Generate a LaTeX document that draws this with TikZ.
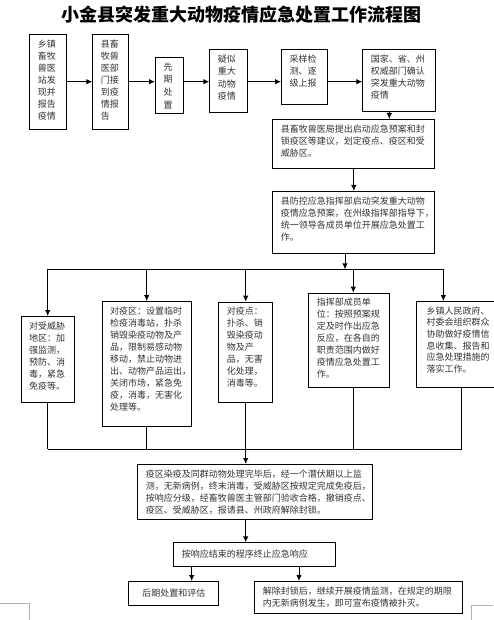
\documentclass[tikz,border=0pt]{standalone}
\usepackage{fontspec}
\newfontfamily\cjk{Noto Sans CJK SC}
\usetikzlibrary{arrows.meta}
\newcommand{\cell}[3]{\parbox[t][#2pt][t]{#1pt}{#3}}

\begin{document}
\begin{tikzpicture}[x=1pt,y=-1pt,
 box/.style={draw,line width=1pt,anchor=north west,inner xsep=8pt,inner ysep=5pt,font=\cjk\fontsize{9}{12}\selectfont,text=black!80},
 arr/.style={line width=1pt,-{Latex[length=6pt,width=5.5pt]}},
 ln/.style={line width=1pt}]
\useasboundingbox (0,0) rectangle (493,620);

\node[font=\cjk\bfseries\fontsize{18}{18}\selectfont] (title) at (241,14.5) {小金县突发重大动物疫情应急处置工作流程图};

\node[box] (b1) at (29.3,34.5) {\cell{20.4}{84.8}{乡镇\\畜牧\\兽医\\站发\\现并\\报告\\疫情}};
\node[box] (b2) at (92.3,34.5) {\cell{20}{84.8}{县畜\\牧兽\\医部\\门接\\到疫\\情报\\告}};
\node[box] (b3) at (155,57) {\cell{11.7}{45.7}{\baselineskip=12.7pt 先\\期\\处\\置}};
\node[box] (b4) at (209.3,49) {\cell{21.4}{53.3}{\baselineskip=12.5pt 疑似\\重大\\动物\\疫情}};
\node[box] (b5) at (281,49.3) {\cell{29.7}{45}{采样检\\测、逐\\级上报}};
\node[box] (b6) at (362.3,49.3) {\cell{56.7}{51.4}{国家、省、州\\权威部门确认\\突发重大动物\\疫情}};
\node[box] (b7) at (272.3,119) {\cell{146}{39.3}{县畜牧兽医局提出启动应急预案和封\\锁疫区等建议，划定疫点、疫区和受\\威胁区。}};
\node[box] (b8) at (272.3,191) {\cell{146}{52.3}{县防控应急指挥部启动突发重大动物\\疫情应急预案，在州级指挥部指导下，\\统一领导各成员单位开展应急处置工\\作。}};

\node[box] (bA) at (20.7,316) {\cell{37.6}{76.3}{对受威胁\\地区：加\\强监测，\\预防、消\\毒，紧急\\免疫等。}};
\node[box] (bB) at (101.7,301) {\cell{73.6}{114.7}{对疫区：设置临时\\检疫消毒站，扑杀\\销毁染疫动物及产\\品，限制易感动物\\移动，禁止动物进\\出、动物产品运出，\\关闭市场，紧急免\\疫，消毒，无害化\\处理等。}};
\node[box] (bC) at (218.3,301.7) {\cell{38}{90.6}{对疫点：\\扑杀、销\\毁染疫动\\物及产\\品，无害\\化处理，\\消毒等。}};
\node[box] (bD) at (308.3,292.7) {\cell{65}{84}{指挥部成员单\\位：按照预案规\\定及时作出应急\\反应，在各自的\\职责范围内做好\\疫情应急处置工\\作。}};
\node[box,inner xsep=10pt] (bE) at (416,301) {\cell{64}{75.7}{\baselineskip=11.7pt 乡镇人民政府、\\村委会组织群众\\协助做好疫情信\\息收集、报告和\\应急处理措施的\\落实工作。}};

\node[box] (bF) at (137.3,464) {\cell{218.4}{45.3}{疫区染疫及同群动物处理完毕后，经一个潜伏期以上监\\测，无新病例，终末消毒，受威胁区按规定完成免疫后，\\按响应分级，经畜牧兽医主管部门验收合格，撤销疫点、\\疫区、受威胁区，报请县、州政府解除封锁。}};
\node[box,inner ysep=7pt] (bG) at (173.3,542.3) {\cell{145.7}{9.7}{按响应结束的程序终止应急响应}};
\node[box,inner ysep=7pt] (bH) at (128.3,581) {\cell{74}{10.3}{\centering 后期处置和评估}};
\node[box] (bI) at (254.3,581) {\cell{191.4}{22.3}{解除封锁后，继续开展疫情监测，在规定的期限\\内无新病例发生，即可宣布疫情被扑灭。}};

\coordinate (row) at (0,81.7);
\coordinate (fork) at (345,269.3);
\coordinate (join) at (245.7,449);

\foreach \a/\b in {b1/b2,b2/b3,b3/b4,b4/b5,b5/b6}
 \draw[arr] (row -| \a.east) -- (row -| \b.west);
\draw[arr] (b6.south -| 389.3,0) -- (b7.north -| 389.3,0);
\draw[arr] (b7.south) -- (b8.north);
\draw[arr] (b8.south -| fork) -- (fork);

\draw[ln] (fork -| 47.7,0) -- (fork -| 443.3,0);
\foreach \n/\x in {bA/47.7,bB/146.7,bC/245.7,bD/353.3,bE/443.3}
 \draw[arr] (fork -| \x,0) -- (\n.north -| \x,0);

\foreach \n/\x in {bA/47.7,bB/146.7,bC/245.7,bD/353.3,bE/461.7}
 \draw[ln] (\n.south -| \x,0) -- (join -| \x,0);
\draw[ln] (join -| 47.7,0) -- (join -| 461.7,0);
\draw[arr] (join) -- (bF.north -| join);
\draw[arr] (bF.south -| join) -- (bG.north -| join);
\draw[arr] (bG.south -| 191.7,0) -- (bH.north -| 191.7,0);
\draw[arr] (bG.south -| 299,0) -- (bI.north -| 299,0);

\draw[gray!60,line width=0.8pt] (0,603.7) -- (29.5,603.7) -- (29.5,620);
\draw[gray!60,line width=0.8pt] (493,605) -- (471.7,605) -- (471.7,620);
\end{tikzpicture}
\end{document}
